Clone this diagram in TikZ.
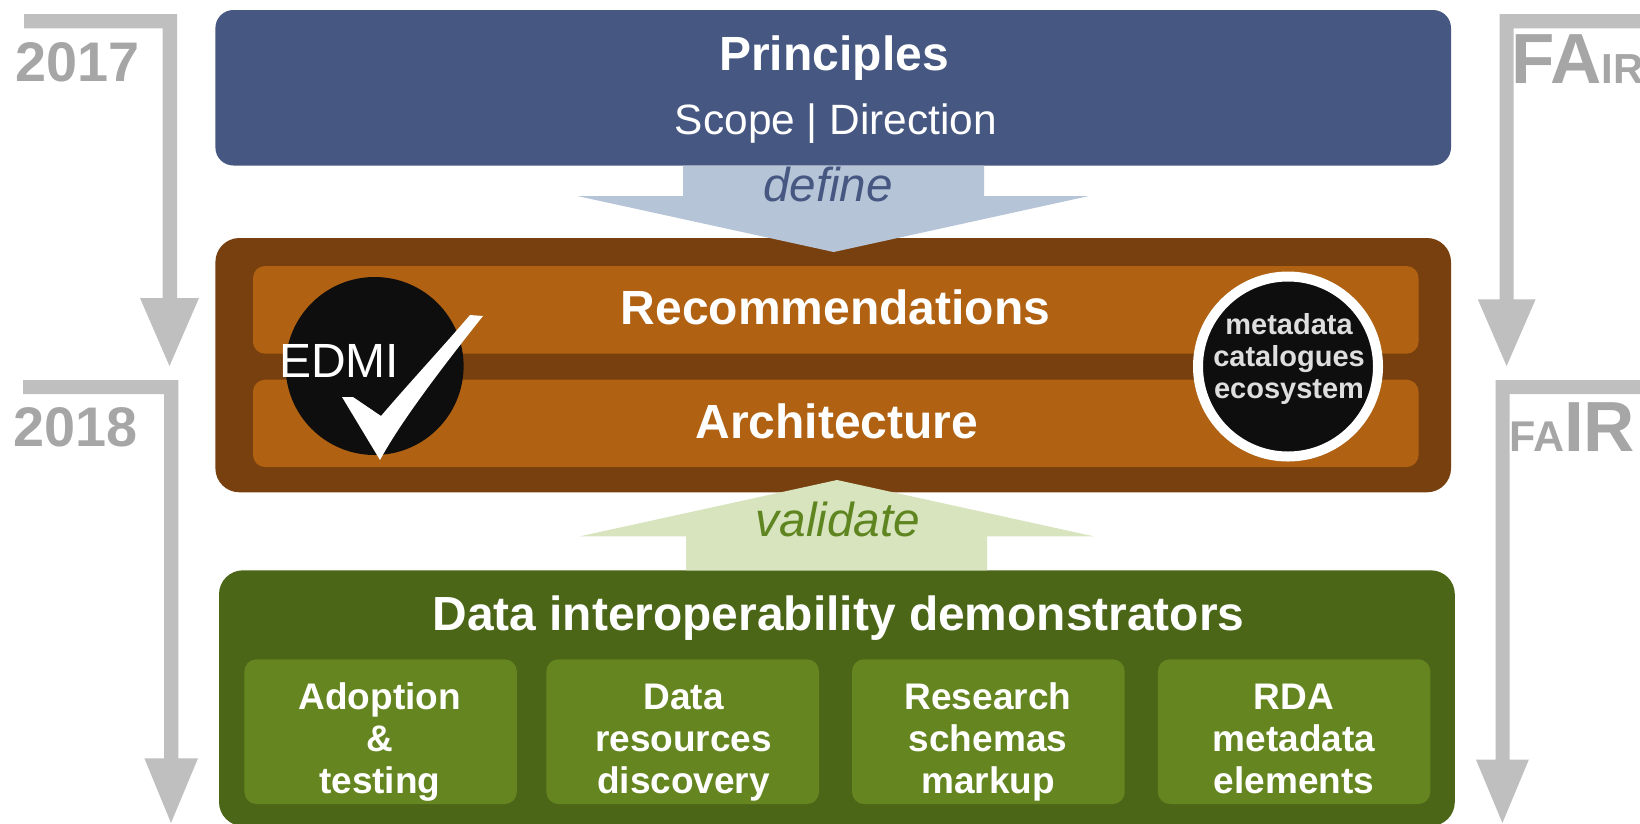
\documentclass[tikz,border=0pt]{standalone}
\usepackage{fontspec}
\setmainfont{Liberation Sans}
\newcommand{\fsz}[2]{\fontsize{#1}{#2}\selectfont}
\definecolor{cblue}{HTML}{465781}
\definecolor{cbrown}{HTML}{78400E}
\definecolor{corange}{HTML}{B06112}
\definecolor{cdgreen}{HTML}{4B6617}
\definecolor{cmgreen}{HTML}{648520}
\definecolor{cblack}{HTML}{0E0E0E}
\definecolor{cgrey}{HTML}{BFBFBF}
\definecolor{ctext}{HTML}{A6A6A6}
\definecolor{carrowb}{HTML}{B6C4D8}
\definecolor{carrowg}{HTML}{D7E4BE}
\definecolor{cvalid}{HTML}{5F8520}
\tikzset{
  panel/.style n args={3}{draw=none,fill=#1,inner sep=0pt,outer sep=0pt,rounded corners=#2,anchor=north west,#3},
  boxlabel/.style={text=white,font=\bfseries,inner sep=0pt,anchor=base,align=center},
  sidelabel/.style={text=ctext,font=\bfseries,inner sep=0pt,anchor=base},
  greyarrow/.style={fill=cgrey,draw=none},
}
\newcommand{\sizedpanel}[7]{%
  \node[panel={#2}{#3}{minimum width=#6pt-#4pt,minimum height=0pt},minimum height=#7pt-#5pt] (#1) at (#4,#5) {};}
\begin{document}
\begin{tikzpicture}[x=1pt,y=-1pt]
\clip (0,0) rectangle (1640,823);
\fill[white] (0,0) rectangle (1640,823);
% grey timeline arrows
\fill[greyarrow] (24,14) -- (177,14) -- (177,298) -- (199,298) -- (169.5,366) -- (140,298) -- (162.5,298) -- (162.5,28.3) -- (24,28.3) -- cycle;
\fill[greyarrow] (23,380) -- (178.4,380) -- (178.4,758.3) -- (198,758.3) -- (171,823) -- (144.4,758.3) -- (164,758.3) -- (164,394) -- (23,394) -- cycle;
\fill[greyarrow] (1640,14) -- (1499.5,14) -- (1499.5,299.3) -- (1477.8,299.3) -- (1506.6,366) -- (1535.6,299.3) -- (1513.6,299.3) -- (1513.6,28.3) -- (1640,28.3) -- cycle;
\fill[greyarrow] (1640,380) -- (1495.5,380) -- (1495.5,759.7) -- (1476,759.7) -- (1502.4,823) -- (1528.8,759.7) -- (1509.6,759.7) -- (1509.6,394) -- (1640,394) -- cycle;
% panels
\sizedpanel{principles}{cblue}{18pt}{215.4}{10}{1451}{165.5}
\sizedpanel{core}{cbrown}{24pt}{215.4}{238}{1451}{492.3}
\sizedpanel{recs}{corange}{12pt}{253}{266}{1418.5}{353.7}
\sizedpanel{arch}{corange}{12pt}{253}{379.7}{1418.5}{467}
\sizedpanel{demo}{cdgreen}{24pt}{219}{570.3}{1454.8}{826}
\sizedpanel{d1}{cmgreen}{12pt}{244.4}{659.3}{516.8}{804}
\sizedpanel{d2}{cmgreen}{12pt}{546.4}{659.3}{819}{804}
\sizedpanel{d3}{cmgreen}{12pt}{852}{659.3}{1124.7}{804}
\sizedpanel{d4}{cmgreen}{12pt}{1157.9}{659.3}{1430.3}{804}
% define / validate block arrows
\fill[carrowb] (683,165.5) -- (984,165.5) -- (984,196) -- (1089,196) -- (833.7,252) -- (577.4,196) -- (683,196) -- cycle;
\fill[carrowg] (686,570.3) -- (987,570.3) -- (987,536.3) -- (1093.6,536.3) -- (837,480) -- (580,536.3) -- (686,536.3) -- cycle;
% circles
\node[circle,fill=cblack,inner sep=0pt,minimum size=178pt] (edmi) at (374.6,366) {};
\node[circle,fill=cblack,draw=white,line width=10pt,inner sep=0pt,minimum size=180pt] (eco) at (1288,366.5) {};
\fill[white] (483,316) -- (470,315) .. controls (440,350) and (410,382) .. (381,416) -- (353,397) -- (342,397) -- (380,460) .. controls (400,423) and (440,370) .. (483,316) -- cycle;
% texts
\node[boxlabel,font=\bfseries\fsz{48}{48}] (tprin) at (834,70) {Principles};
\node[text=white,inner sep=0pt,anchor=base,font=\fsz{42.4}{48}] (tscope) at (836,134) {Scope | Direction};
\node[text=cblue,inner sep=0pt,anchor=base,font=\itshape\fsz{47.6}{48}] (tdef) at (828,201) {define};
\node[boxlabel,font=\bfseries\fsz{48}{48}] (trec) at (835.5,324) {Recommendations};
\node[boxlabel,font=\bfseries\fsz{48}{48}] (tarch) at (837,438) {Architecture};
\node[text=cvalid,inner sep=0pt,anchor=base,font=\itshape\fsz{47.7}{48}] (tval) at (838,536) {validate};
\node[boxlabel,font=\bfseries\fsz{47.9}{48}] (tdemo) at (838.5,630) {Data interoperability demonstrators};
\node[boxlabel,font=\bfseries\fsz{37}{42}] (t1) at (379.8,793) {Adoption\\\&\\testing};
\node[boxlabel,font=\bfseries\fsz{37}{42}] (t2) at (683.5,793) {Data\\resources\\discovery};
\node[boxlabel,font=\bfseries\fsz{37}{42}] (t3) at (988,793) {Research\\schemas\\markup};
\node[boxlabel,font=\bfseries\fsz{37}{42}] (t4) at (1294,793) {RDA\\metadata\\elements};
\node[text=white,inner sep=0pt,anchor=base,font=\fsz{48}{48}] (tedmi) at (339,377) {EDMI};
\node[inner sep=0pt,anchor=base,align=center,text=black!13,font=\bfseries\fsz{29}{32}] (teco) at (1289,398) {metadata\\catalogues\\ecosystem};
\node[sidelabel,font=\bfseries\fsz{55.8}{56}] (y17) at (77.5,81) {2017};
\node[sidelabel,font=\bfseries\fsz{55.8}{56}] (y18) at (75.5,446) {2018};
\node[sidelabel,anchor=base west] (f1) at (1511,83.3) {\fsz{71}{71}FA\fsz{42}{42}IR};
\node[sidelabel,anchor=base west] (f2) at (1509,451.7) {\fsz{43}{43}FA\fsz{71}{71}IR};
\end{tikzpicture}
\end{document}
